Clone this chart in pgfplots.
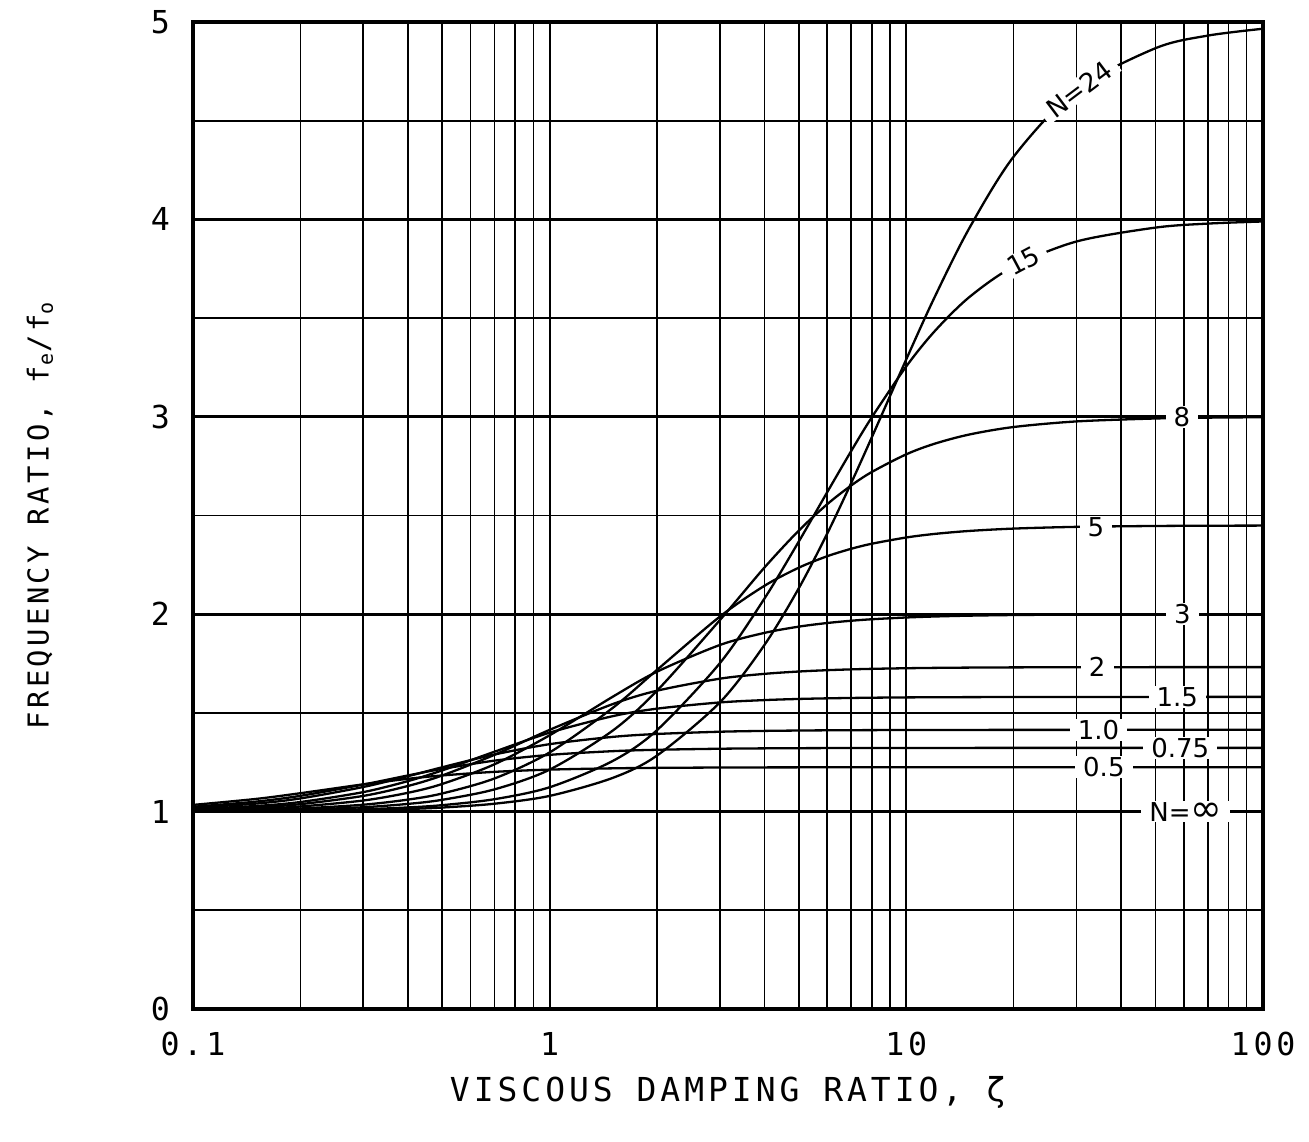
\documentclass[border=0pt]{standalone}
\usepackage{fontspec}
\usepackage{pgfplots}
\usepackage{pgfplotstable}
\pgfplotsset{compat=1.18}

\newfontfamily\plotmono{DejaVu Sans Mono}[LetterSpace=12.0]
\newfontfamily\curvefont{DejaVu Sans}
\newcommand\tickfont{\plotmono\fontsize{15.8}{18}\selectfont}
\newcommand\xtitlefont{\plotmono\fontsize{16.5}{19}\selectfont}
\newcommand\ytitlefont{\plotmono\fontsize{14.4}{17}\selectfont}
\newcommand\lblfont{\curvefont\fontsize{13}{15}\selectfont}

\tikzset{
  lbl/.style={fill=white, inner xsep=4pt, inner ysep=0.6pt, font=\lblfont},
  crv/.style={black, solid, line width=1.15pt, smooth, mark=none},
}

% f_e/f_0 against damping ratio for each stiffness ratio N
\pgfplotstableread{
z      n05     n075    n1      n1p5    n2      n3      n5      n8      n15     n24
0.1    1.0339  1.0246  1.0191  1.0130  1.0099  1.0066  1.0040  1.0025  1.0013  1.0008
0.15   1.0641  1.0505  1.0405  1.0284  1.0218  1.0147  1.0089  1.0056  1.0030  1.0019
0.2    1.0932  1.0799  1.0667  1.0486  1.0377  1.0259  1.0158  1.0099  1.0053  1.0033
0.3    1.1380  1.1370  1.1246  1.0986  1.0794  1.0561  1.0349  1.0221  1.0119  1.0075
0.4    1.1660  1.1829  1.1791  1.1542  1.1295  1.0951  1.0606  1.0389  1.0210  1.0132
0.5    1.1832  1.2166  1.2247  1.2089  1.1832  1.1402  1.0919  1.0598  1.0327  1.0206
0.7    1.2014  1.2581  1.2893  1.3032  1.2875  1.2396  1.1677  1.1125  1.0628  1.0399
1      1.2127  1.2874  1.3416  1.4000  1.4142  1.3868  1.2999  1.2127  1.1234  1.0796
1.5    1.2192  1.3061  1.3784  1.4832  1.5442  1.5811  1.5243  1.4094  1.2558  1.1702
2      1.2216  1.3132  1.3933  1.5215  1.6125  1.7088  1.7179  1.6125  1.4127  1.2840
3      1.2233  1.3185  1.4046  1.5530  1.6733  1.8439  1.9877  1.9698  1.7518  1.5530
4      1.2239  1.3204  1.4088  1.5649  1.6978  1.9053  2.1437  2.2361  2.0789  1.8439
5      1.2242  1.3213  1.4107  1.5707  1.7097  1.9371  2.2361  2.4245  2.3697  2.1331
6      1.2244  1.3218  1.4118  1.5738  1.7164  1.9554  2.2936  2.5571  2.6180  2.4083
7      1.2245  1.3221  1.4124  1.5757  1.7205  1.9668  2.3312  2.6516  2.8255  2.6633
8      1.2245  1.3223  1.4128  1.5770  1.7232  1.9744  2.3569  2.7203  2.9972  2.8956
10     1.2246  1.3225  1.4133  1.5785  1.7263  1.9834  2.3887  2.8101  3.2558  3.2918
12     1.2247  1.3226  1.4136  1.5793  1.7281  1.9884  2.4067  2.8636  3.4331  3.6056
15     1.2247  1.3227  1.4138  1.5799  1.7295  1.9926  2.4217  2.9101  3.6056  3.9540
20     1.2247  1.3228  1.4140  1.5804  1.7306  1.9958  2.4337  2.9483  3.7618  4.3182
30     1.2247  1.3228  1.4141  1.5808  1.7314  1.9981  2.4425  2.9766  3.8881  4.6572
50     1.2247  1.3229  1.4142  1.5810  1.7318  1.9993  2.4469  2.9915  3.9585  4.8675
70     1.2247  1.3229  1.4142  1.5811  1.7319  1.9997  2.4482  2.9957  3.9787  4.9310
100    1.2247  1.3229  1.4142  1.5811  1.7320  1.9998  2.4489  2.9979  3.9895  4.9658
}\curves

\begin{document}
\begin{tikzpicture}
\path[use as bounding box] (-96.5pt,-66pt) rectangle (558pt,504.5pt);
\begin{axis}[
  scale only axis, width=535pt, height=493.5pt,
  xmode=log, log basis x=10,
  xmin=0.1, xmax=100, ymin=0, ymax=5,
  xtick={0.1,1,10,100}, xticklabels={0.1,1,10,100},
  minor xtick={0.2,0.3,0.4,0.5,0.6,0.7,0.8,0.9,2,3,4,5,6,7,8,9,20,30,40,50,60,70,80,90},
  ytick={0,1,2,3,4,5}, yticklabels={0,1,2,3,4,5},
  minor ytick={0.5,1.5,2.5,3.5,4.5},
  grid=both,
  major x grid style={line width=0.9pt, black},
  minor x grid style={line width=0.8pt, black},
  major y grid style={line width=1.3pt, black},
  minor y grid style={line width=0.85pt, black},
  major tick length=0pt, minor tick length=0pt,
  axis line style={line width=2pt},
  ticklabel style={font=\tickfont},
  xticklabel style={yshift=-8pt},
  yticklabel style={xshift=-8pt},
  xlabel={VISCOUS DAMPING RATIO, ζ},
  ylabel={FREQUENCY RATIO, f\textsubscript{e}/f\textsubscript{o}},
  xlabel style={font=\xtitlefont, at={([yshift=-41.5pt]axis description cs:0.5,0)}, anchor=center},
  ylabel style={font=\ytitlefont, at={([xshift=-76.5pt]axis description cs:0,0.5)}, anchor=center},
]
\addplot[crv] table[x=z, y=n05]  {\curves};
\addplot[crv] table[x=z, y=n075] {\curves};
\addplot[crv] table[x=z, y=n1]   {\curves};
\addplot[crv] table[x=z, y=n1p5] {\curves};
\addplot[crv] table[x=z, y=n2]   {\curves};
\addplot[crv] table[x=z, y=n3]   {\curves};
\addplot[crv] table[x=z, y=n5]   {\curves};
\addplot[crv] table[x=z, y=n8]   {\curves};
\addplot[crv] table[x=z, y=n15]  {\curves};
\addplot[crv] table[x=z, y=n24]  {\curves};
\addplot[crv] coordinates {(0.1,1) (100,1)};

\node[lbl, rotate=37] at (axis cs:30.5,4.66) {N=24};
\node[lbl, rotate=28] at (axis cs:21.3,3.79) {15};
\node[lbl] at (axis cs:59.2,3.0)   {8};
\node[lbl] at (axis cs:34.0,2.44)  {5};
\node[lbl] at (axis cs:59.4,2.0)   {3};
\node[lbl] at (axis cs:34.3,1.731) {2};
\node[lbl] at (axis cs:57.5,1.581) {1.5};
\node[lbl] at (axis cs:34.6,1.414) {1.0};
\node[lbl] at (axis cs:58.6,1.323) {0.75};
\node[lbl] at (axis cs:35.8,1.225) {0.5};
\node[lbl] at (axis cs:60.8,1.0)   {N={\fontsize{19}{15}\selectfont ∞}};
\end{axis}
\end{tikzpicture}
\end{document}
